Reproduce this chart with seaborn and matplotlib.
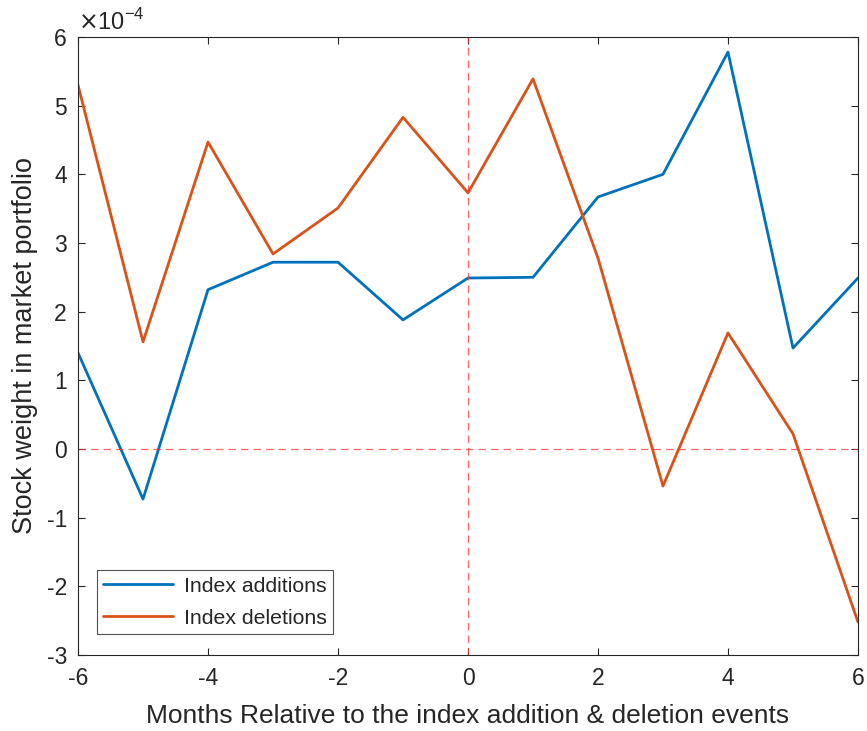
import numpy as np
import pandas as pd
import matplotlib
matplotlib.use('Agg')
import matplotlib.pyplot as plt
import seaborn as sns

# Datos (unidades de 1e-4)
meses = [-6, -5, -4, -3, -2, -1, 0, 1, 2, 3, 4, 5, 6]
altas = [1.40, -0.73, 2.32, 2.72, 2.72, 1.88, 2.49, 2.50, 3.67, 4.00, 5.78, 1.47, 2.49]
bajas = [5.30, 1.56, 4.47, 2.84, 3.51, 4.83, 3.73, 5.39, 2.78, -0.54, 1.69, 0.22, -2.52]
series = ['Index additions', 'Index deletions']
colores = ['#0072BD', '#D95319']

df = pd.DataFrame({
    'Mes': meses * 2,
    'Peso': np.array(altas + bajas) * 1e-4,
    'Serie': [series[0]] * len(meses) + [series[1]] * len(meses),
})

sns.set_theme(style="white")
plt.rcParams.update({
    'font.family': ['Liberation Sans', 'DejaVu Sans'],
    'axes.unicode_minus': False,
    'xtick.direction': 'in',
    'ytick.direction': 'in',
    'axes.edgecolor': '#262626',
    'axes.linewidth': 0.8,
})

fig = plt.figure(figsize=(8.67, 7.31), dpi=100)
ax = fig.add_axes([0.09, 0.104, 0.8996, 0.8454])

sns.lineplot(data=df, x='Mes', y='Peso', hue='Serie', palette=colores,
             linewidth=2, ax=ax, legend=True)

ax.axhline(0, color='#FF3333', linestyle=(0, (6, 4)), linewidth=0.9, alpha=0.75)
ax.axvline(0, color='#FF3333', linestyle=(0, (6, 4)), linewidth=0.9, alpha=0.75)

ax.set_xlim(-6, 6)
ax.set_ylim(-3e-4, 6e-4)
ax.set_xticks(range(-6, 7, 2))
ax.set_yticks(np.arange(-3, 7) * 1e-4)
ax.set_yticklabels([str(v) for v in range(-3, 7)])
ax.tick_params(axis='both', labelsize=16.5, colors='#262626', length=5, width=0.8,
               top=True, right=True, bottom=True, left=True)
ax.tick_params(axis='x', pad=9)
ax.tick_params(axis='y', pad=8)
ax.text(0.0, 1.004, r'$\times$10$^{\mathregular{-4}}$', transform=ax.transAxes,
        fontsize=17, color='#262626', ha='left', va='bottom')

ax.set_xlabel('Months Relative to the index addition & deletion events', fontsize=19, color='#262626', labelpad=10)
ax.set_ylabel('Stock weight in market portfolio', fontsize=19.5, color='#262626', labelpad=6)

leg = ax.legend(loc='lower left', bbox_to_anchor=(0.024, 0.034), fontsize=15.3,
                frameon=True, fancybox=False, edgecolor='#262626', handlelength=3.3,
                borderpad=0.3, labelspacing=0.6, handletextpad=0.5, borderaxespad=0)
leg.get_frame().set_linewidth(0.8)

for s in ax.spines.values():
    s.set_visible(True)

fig.savefig('out.png', dpi=100)
